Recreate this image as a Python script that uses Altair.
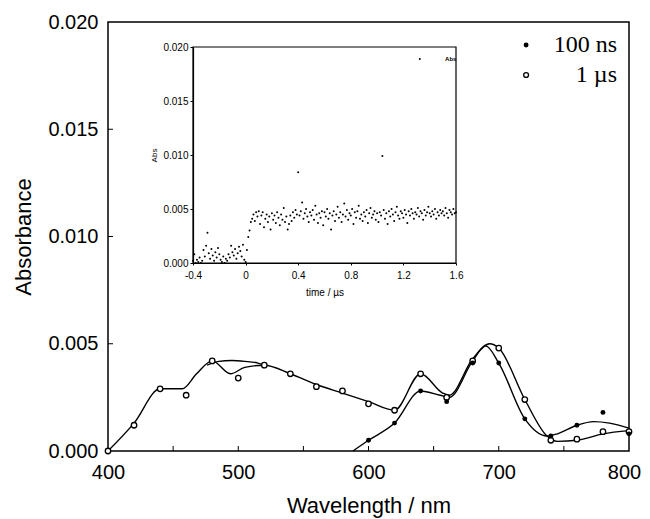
import altair as alt
import pandas as pd

# ---------------- main spectrum: markers ----------------
wl_1us = [400, 420, 440, 460, 480, 500, 520, 540, 560, 580, 600, 620, 640, 660, 680, 700, 720, 740, 760, 780, 800]
abs_1us = [0.0, 0.0012, 0.0029, 0.0026, 0.0042, 0.0034, 0.0040, 0.0036, 0.0030, 0.0028, 0.0022,
           0.0019, 0.0036, 0.0025, 0.0042, 0.0048, 0.0024, 0.0005, 0.00055, 0.0009, 0.0009]
wl_100ns = [600, 620, 640, 660, 680, 700, 720, 740, 760, 780, 800]
abs_100ns = [0.0005, 0.0013, 0.0028, 0.0023, 0.0041, 0.0041, 0.0015, 0.0007, 0.0012, 0.0018, 0.0008]

# ---------------- main spectrum: hand-drawn fit curves ----------------
fit_1us_wl = [400, 420, 440, 457, 468, 480, 494, 505, 520, 540, 560, 580, 600, 620, 640, 657, 662,
              680, 693, 700, 720, 737, 745, 760, 780, 800]
fit_1us_abs = [0.0, 0.0013, 0.0029, 0.0029, 0.0036, 0.0042, 0.0036, 0.0039, 0.0040, 0.0036, 0.0031,
               0.0027, 0.0023, 0.0019, 0.0036, 0.0027, 0.0026, 0.0043, 0.0050, 0.0048, 0.0024, 0.0007,
               0.00045, 0.0005, 0.0008, 0.00095]
fit_arc_wl = [476, 485, 495, 505, 515, 520]
fit_arc_abs = [0.0040, 0.00418, 0.00422, 0.00418, 0.0041, 0.0040]
fit_100ns_wl = [588, 600, 620, 640, 655, 662, 680, 690, 700, 720, 737, 745, 760, 773, 785, 800]
fit_100ns_abs = [0.0, 0.0005, 0.0013, 0.0028, 0.0026, 0.0025, 0.0042, 0.0049, 0.0041, 0.0015,
                 0.0007, 0.0008, 0.0012, 0.00137, 0.0013, 0.00107]

# ---------------- main axes ----------------
x_tick_labels = [400, 500, 600, 700, 800]
y_tick_labels = [0.0, 0.005, 0.010, 0.015, 0.020]
x_inner_ticks = [450, 500, 550, 600, 650, 700, 750]
y_inner_ticks = [0.005, 0.010, 0.015]

# ---------------- legend ----------------
legend_labels = ["100 ns", "1 \u00b5s"]
legend_filled = [True, False]
legend_sym_x = [721, 721]
legend_txt_x = [790.8, 790.8]
legend_y = [0.01893, 0.01753]

# ---------------- inset transient (time in us, Abs in 1e-4 units) ----------------
inset_t = [
    -0.40, -0.39, -0.38, -0.37, -0.36, -0.35, -0.34, -0.33, -0.32, -0.31,
    -0.30, -0.29, -0.28, -0.27, -0.26, -0.25, -0.24, -0.23, -0.22, -0.21,
    -0.20, -0.19, -0.18, -0.17, -0.16, -0.15, -0.14, -0.13, -0.12, -0.11,
    -0.10, -0.09, -0.08, -0.07, -0.06, -0.05, -0.04, -0.03, -0.02, -0.01,
    0.00, 0.01, 0.02, 0.03, 0.04, 0.05, 0.06, 0.07, 0.08, 0.09,
    0.10, 0.11, 0.12, 0.13, 0.14, 0.15, 0.16, 0.17, 0.18, 0.19,
    0.20, 0.21, 0.22, 0.23, 0.24, 0.25, 0.26, 0.27, 0.28, 0.29,
    0.30, 0.31, 0.32, 0.33, 0.34, 0.35, 0.36, 0.37, 0.38, 0.39,
    0.40, 0.41, 0.42, 0.43, 0.44, 0.45, 0.46, 0.47, 0.48, 0.49,
    0.50, 0.51, 0.52, 0.53, 0.54, 0.55, 0.56, 0.57, 0.58, 0.59,
    0.60, 0.61, 0.62, 0.63, 0.64, 0.65, 0.66, 0.67, 0.68, 0.69,
    0.70, 0.71, 0.72, 0.73, 0.74, 0.75, 0.76, 0.77, 0.78, 0.79,
    0.80, 0.81, 0.82, 0.83, 0.84, 0.85, 0.86, 0.87, 0.88, 0.89,
    0.90, 0.91, 0.92, 0.93, 0.94, 0.95, 0.96, 0.97, 0.98, 0.99,
    1.00, 1.01, 1.02, 1.03, 1.04, 1.05, 1.06, 1.07, 1.08, 1.09,
    1.10, 1.11, 1.12, 1.13, 1.14, 1.15, 1.16, 1.17, 1.18, 1.19,
    1.20, 1.21, 1.22, 1.23, 1.24, 1.25, 1.26, 1.27, 1.28, 1.29,
    1.30, 1.31, 1.32, 1.33, 1.34, 1.35, 1.36, 1.37, 1.38, 1.39,
    1.40, 1.41, 1.42, 1.43, 1.44, 1.45, 1.46, 1.47, 1.48, 1.49,
    1.50, 1.51, 1.52, 1.53, 1.54, 1.55, 1.56, 1.57, 1.58, 1.59,
    1.60,
]
inset_abs_e4 = [
    2, 8, 0, 3, 1, 5, 0, 2, 12, 6,
    16, 28, 9, 4, 13, 7, 2, 10, 5, 14,
    8, 3, 1, 6, 0, 4, 2, 8, 5, 16,
    10, 7, 13, 4, 9, 15, 11, 6, 17, 3,
    1, 12, 24, 30, 38, 41, 45, 39, 47, 43,
    48, 36, 44, 47, 33, 41, 45, 38, 43, 31,
    46, 40, 44, 37, 47, 42, 35, 45, 40, 51,
    38, 43, 31, 36, 44, 39, 47, 42, 49, 45,
    84, 44, 48, 56, 41, 46, 50, 43, 38, 47,
    44, 49, 40, 53, 45, 37, 46, 42, 48, 35,
    47, 43, 50, 41, 46, 31, 44, 48, 39, 45,
    52, 42, 47, 38, 45, 55, 43, 49, 40, 46,
    44, 50, 36, 47, 42, 48, 53, 41, 45, 39,
    47, 43, 49, 37, 46, 51, 42, 45, 48, 40,
    46, 38, 47, 44, 99, 49, 41, 46, 36, 48,
    43, 50, 45, 39, 47, 52, 44, 41, 48, 46,
    42, 49, 45, 37, 48, 44, 50, 46, 41, 47,
    45, 51, 43, 48, 46, 40, 49, 44, 47, 52,
    46, 43, 48, 45, 50, 41, 47, 44, 49, 46,
    48, 44, 51, 46, 42, 49, 47, 45, 50, 46,
    47,
]
inset_x_ticks = [-0.4, 0, 0.4, 0.8, 1.2, 1.6]
inset_y_ticks = [0.0, 0.005, 0.010, 0.015, 0.020]
inset_legend_dot = {"t": [1.325], "a": [0.0189]}
inset_legend_txt = {"t": [1.56], "a": [0.0189], "label": ["Abs"]}

# ================= build =================
W, H = 521, 429
SANS = "Liberation Sans"
SERIF = "Liberation Serif"

mx = alt.Scale(domain=[400, 800], nice=False, zero=False)
my = alt.Scale(domain=[0, 0.02], nice=False)
xax = alt.Axis(values=x_tick_labels, ticks=False, domain=False, grid=False, labelPadding=11,
               labelFontSize=20, labelFont=SANS, labelColor="black",
               labelOffset={"condition": {"test": "datum.value == 800", "value": -5}, "value": 0},
               title="Wavelength / nm", titleFontSize=22, titleFont=SANS,
               titleFontWeight="normal", titlePadding=13, titleColor="black", labelFlush=False)
yax = alt.Axis(values=y_tick_labels, format=".3f", ticks=False, domain=False, grid=False,
               labelPadding=10, labelFontSize=20, labelFont=SANS, labelColor="black",
               title="Absorbance", titleFontSize=22, titleFont=SANS, titleFontWeight="normal",
               titlePadding=12, titleColor="black", labelFlush=False)

def MX(f):
    return alt.X(f, type="quantitative", scale=mx, axis=xax)

def MY(f):
    return alt.Y(f, type="quantitative", scale=my, axis=yax)

fits = pd.concat([
    pd.DataFrame({"wl": fit_1us_wl, "A": fit_1us_abs, "s": "1us"}),
    pd.DataFrame({"wl": fit_arc_wl, "A": fit_arc_abs, "s": "arc"}),
    pd.DataFrame({"wl": fit_100ns_wl, "A": fit_100ns_abs, "s": "100ns"}),
])
lines = alt.Chart(fits).mark_line(interpolate="monotone", color="black", strokeWidth=1.4).encode(
    x=MX("wl"), y=MY("A"), detail="s:N")

pts_open = alt.Chart(pd.DataFrame({"wl": wl_1us, "A": abs_1us})).mark_point(
    shape="circle", filled=False, fill="white", fillOpacity=1, stroke="black", strokeWidth=1.3,
    size=30, opacity=1).encode(x=MX("wl"), y=MY("A"))
pts_fill = alt.Chart(pd.DataFrame({"wl": wl_100ns, "A": abs_100ns})).mark_circle(
    color="black", size=24, opacity=1).encode(x=MX("wl"), y=MY("A"))

xt = alt.Chart(pd.DataFrame({"wl": x_inner_ticks})).mark_rule(color="black", strokeWidth=1).encode(
    x=MX("wl"), y=alt.value(H), y2=alt.value(H - 5))
yt = alt.Chart(pd.DataFrame({"A": y_inner_ticks})).mark_rule(color="black", strokeWidth=1).encode(
    y=MY("A"), x=alt.value(0), x2=alt.value(5))

leg = pd.DataFrame({"lab": legend_labels, "filled": legend_filled, "sx": legend_sym_x,
                    "tx": legend_txt_x, "y": legend_y})
leg_fill = alt.Chart(leg).transform_filter("datum.filled").mark_circle(
    color="black", size=24, opacity=1).encode(x=MX("sx"), y=MY("y"))
leg_open = alt.Chart(leg).transform_filter("!datum.filled").mark_point(
    shape="circle", filled=False, fill="white", fillOpacity=1, stroke="black", strokeWidth=1.3,
    size=24, opacity=1).encode(x=MX("sx"), y=MY("y"))
leg_txt = alt.Chart(leg).mark_text(font=SERIF, fontSize=24, align="right", baseline="middle",
                                   color="black").encode(x=MX("tx"), y=MY("y"), text="lab:N")

main = alt.layer(lines, pts_open, pts_fill, xt, yt, leg_fill, leg_open, leg_txt)

# ---------------- inset ----------------
IX0, IX1, IY0, IY1 = 85, 348, 241, 25
ix = alt.Scale(domain=[-0.4, 1.6], range=[IX0, IX1], nice=False, zero=False)
iy = alt.Scale(domain=[0, 0.02], range=[IY0, IY1], nice=False)
ixax = alt.Axis(orient="bottom", offset=-(H - IY0), values=inset_x_ticks, labelExpr="datum.value + ''",
                grid=False, domainColor="black", domainWidth=1.2, tickColor="black", tickSize=2,
                labelFontSize=10, labelFont=SANS, labelColor="black", labelPadding=5, labelFlush=False,
                title="time / \u00b5s", titleFontSize=10, titleFont=SANS, titleFontWeight="normal",
                titleColor="black", titlePadding=7)
iyax = alt.Axis(orient="left", offset=-IX0, values=inset_y_ticks, format=".3f", grid=False,
                domainColor="black", domainWidth=1.2, tickColor="black", tickSize=3,
                labelFontSize=10, labelFont=SANS, labelColor="black", labelPadding=2, labelFlush=False,
                title="Abs", titleFontSize=8, titleFont=SANS, titleFontWeight="normal",
                titleColor="black", titlePadding=4)

def IX(f):
    return alt.X(f, type="quantitative", scale=ix, axis=ixax)

def IY(f):
    return alt.Y(f, type="quantitative", scale=iy, axis=iyax)

inset_df = pd.DataFrame({"t": inset_t, "a": [v * 1e-4 for v in inset_abs_e4]})
inset_pts = alt.Chart(inset_df).mark_circle(color="black", size=4, opacity=1).encode(
    x=IX("t"), y=IY("a"))
frame = alt.Chart(pd.DataFrame({"t": [-0.4], "t2": [1.6], "a": [0.0], "a2": [0.02]})).mark_rect(
    filled=False, stroke="black", strokeWidth=1.2).encode(
    x=IX("t"), x2="t2", y=IY("a"), y2="a2")
ileg_dot = alt.Chart(pd.DataFrame(inset_legend_dot)).mark_circle(color="black", size=4, opacity=1).encode(
    x=IX("t"), y=IY("a"))
ileg_txt = alt.Chart(pd.DataFrame(inset_legend_txt)).mark_text(
    font=SANS, fontSize=6, fontWeight="bold", align="center", baseline="middle", color="black").encode(
    x=IX("t"), y=IY("a"), text="label:N")

inset = alt.layer(frame, inset_pts, ileg_dot, ileg_txt)

chart = alt.layer(main, inset).resolve_scale(x="independent", y="independent").properties(
    width=W, height=H,
    padding={"left": 100, "top": 14, "right": 13, "bottom": 68},
    autosize=alt.AutoSizeParams(type="none"),
    background="white",
).configure_view(stroke="black", strokeWidth=1.5)

chart.save("out.html", embed_options={"renderer": "svg", "actions": False})
